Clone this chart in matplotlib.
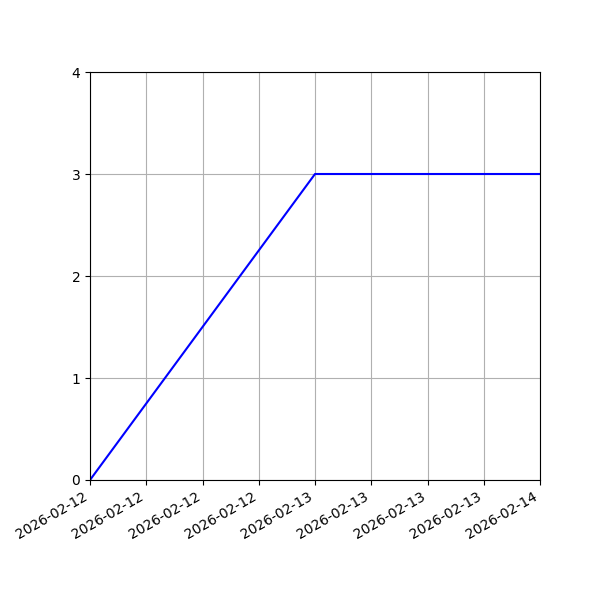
import datetime as dt
import matplotlib
matplotlib.use("Agg")
import matplotlib.pyplot as plt
import matplotlib.dates as mdates

# data
dates = [dt.datetime(2026, 2, 12), dt.datetime(2026, 2, 13), dt.datetime(2026, 2, 14)]
values = [0, 3, 3]
y_ticks = [0, 1, 2, 3, 4]

fig, ax = plt.subplots(figsize=(6, 6), dpi=100)
ax.plot(dates, values, color="blue")

ax.set_xlim(dates[0], dates[-1])
ax.set_ylim(0, 4)
ax.set_yticks(y_ticks)
ax.xaxis.set_major_locator(mdates.HourLocator(byhour=[0, 6, 12, 18]))
ax.xaxis.set_major_formatter(mdates.DateFormatter("%Y-%m-%d"))
ax.grid(True)

fig.autofmt_xdate()
fig.subplots_adjust(left=0.15, right=0.9, top=0.88, bottom=0.2)
fig.savefig("out.png", dpi=100)
